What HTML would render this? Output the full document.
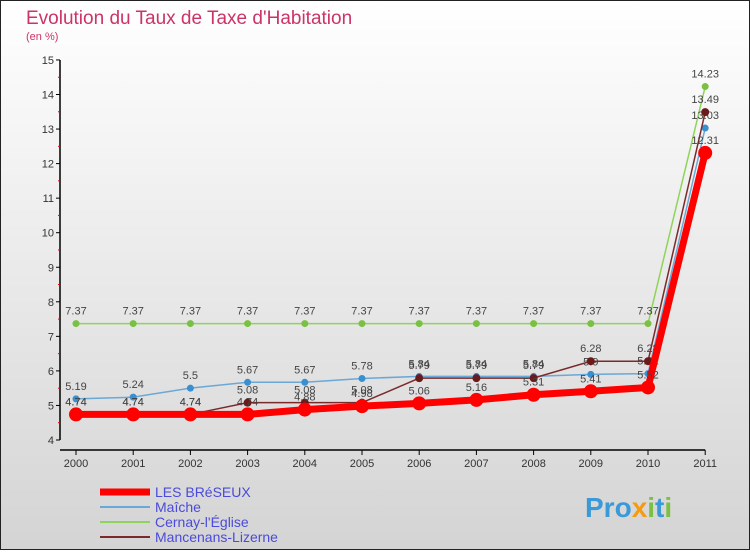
<!DOCTYPE html>
<html><head><meta charset="utf-8"><style>
body{margin:0;width:750px;height:550px;overflow:hidden;font-family:"Liberation Sans",sans-serif}
</style></head><body>
<svg width="750" height="550" xmlns="http://www.w3.org/2000/svg" font-family="Liberation Sans, sans-serif">
<defs><linearGradient id="bg" x1="0" y1="0" x2="0" y2="1"><stop offset="0" stop-color="#ffffff"/><stop offset="1" stop-color="#d4d4d4"/></linearGradient></defs>
<rect x="0.5" y="0.5" width="749" height="549" fill="url(#bg)" stroke="#222"/>
<text x="26" y="24" font-size="19" fill="#cc3366">Evolution du Taux de Taxe d'Habitation</text>
<text x="26" y="40" font-size="11" fill="#cc3366">(en %)</text>
<g id="axes"></g>
<g id="series"></g>
<g id="legend"></g>
<text x="585" y="517" font-size="28" font-weight="bold" fill="#3a9ad9">Pro<tspan fill="#f39c12">x</tspan><tspan fill="#7ac143">i</tspan>t<tspan fill="#7ac143">i</tspan></text>
</svg>
<script>
const years=[2000,2001,2002,2003,2004,2005,2006,2007,2008,2009,2010,2011];
const yTicks=[4,5,6,7,8,9,10,11,12,13,14,15];
const lesBreseux=[4.74,4.74,4.74,4.74,4.88,4.98,5.06,5.16,5.31,5.41,5.52,12.31];
const maiche=[5.19,5.24,5.5,5.67,5.67,5.78,5.84,5.84,5.84,5.9,5.92,13.03];
const cernay=[7.37,7.37,7.37,7.37,7.37,7.37,7.37,7.37,7.37,7.37,7.37,14.23];
const mancenans=[4.74,4.74,4.74,5.08,5.08,5.08,5.79,5.79,5.79,6.28,6.28,13.49];
const NS="http://www.w3.org/2000/svg";
const X=i=>76+i*57.2, Y=v=>440-(v-4)*34.55;
function mk(t,a,p){const e=document.createElementNS(NS,t);for(const k in a)e.setAttribute(k,a[k]);p.appendChild(e);return e;}
const ax=document.getElementById('axes');
let l=mk('line',{x1:60,y1:Y(4),x2:60,y2:Y(15),stroke:'#000','stroke-width':1.5},ax);


l=mk('line',{x1:60,y1:450,x2:X(11),y2:450,stroke:'#000','stroke-width':1.5},ax);


yTicks.forEach(v=>{mk('line',{x1:56,y1:Y(v),x2:60,y2:Y(v),stroke:'#000'},ax);
if(v<15)mk('line',{x1:58,y1:Y(v+0.5),x2:60,y2:Y(v+0.5),stroke:'#e00'},ax);
const t=mk('text',{x:54,y:Y(v)+4,'font-size':11,'text-anchor':'end',fill:'#333'},ax);t.textContent=v;

});
years.forEach((y,i)=>{mk('line',{x1:X(i),y1:450,x2:X(i),y2:455,stroke:'#000'},ax);
const t=mk('text',{x:X(i),y:467,'font-size':11,'text-anchor':'middle',fill:'#333'},ax);t.textContent=y;

});
const sg=document.getElementById('series');
const S=[[cernay,'#8fd45a',1.5,3.5,'#7ac143','cernay'],[maiche,'#6aa8d8',1.5,3.5,'#3a8fd0','maiche'],[mancenans,'#7a2a2a',1.5,4,'#6a1a1a','mancenans'],[lesBreseux,'#ff0000',7,7,'#ff0000','les-breseux']];
S.forEach(([d,c,w,r,fc,n])=>{
const p=mk('polyline',{points:d.map((v,i)=>X(i)+','+Y(v)).join(' '),fill:'none',stroke:c,'stroke-width':w},sg);


d.forEach((v,i)=>{const ci=mk('circle',{cx:X(i),cy:Y(v),r:r,fill:fc},sg);


const t=mk('text',{x:X(i),y:Y(v)-9,'font-size':11,'text-anchor':'middle',fill:'#444'},sg);t.textContent=v;

});});
const lg=document.getElementById('legend');
const L=[['LES BRéSEUX','#ff0000',7],['Maîche','#6aa8d8',2],['Cernay-l\'Église','#8fd45a',2],['Mancenans-Lizerne','#7a2a2a',2]];
L.forEach(([n,c,w],i)=>{const y=492+i*15;
mk('line',{x1:100,y1:y,x2:150,y2:y,stroke:c,'stroke-width':w},lg);
const t=mk('text',{x:155,y:y+5,'font-size':14,fill:'#4a4adc'},lg);t.textContent=n;

});
</script>
</body></html>
